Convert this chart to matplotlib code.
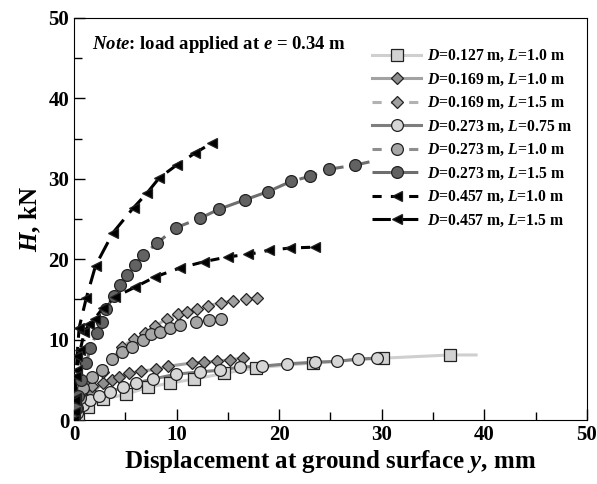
import numpy as np
import matplotlib
matplotlib.use('Agg')
import matplotlib.pyplot as plt
from matplotlib.ticker import MultipleLocator

# ---- data (y in mm, H in kN) ----
labels = [r'$D$=0.127 m, $L$=1.0 m',
          r'$D$=0.169 m, $L$=1.0 m',
          r'$D$=0.169 m, $L$=1.5 m',
          r'$D$=0.273 m, $L$=0.75 m',
          r'$D$=0.273 m, $L$=1.0 m',
          r'$D$=0.273 m, $L$=1.5 m',
          r'$D$=0.457 m, $L$=1.0 m',
          r'$D$=0.457 m, $L$=1.5 m']

x_d127_l10 = [0, 0.4, 1.4, 2.8, 5.1, 7.2, 9.4, 11.7, 14.6, 17.7, 23.3, 30.1, 36.7]
h_d127_l10 = [0, 0.7, 1.6, 2.6, 3.2, 4.1, 4.6, 5.1, 5.8, 6.5, 7.1, 7.7, 8.1]

x_d169_l10 = [0, 0.4, 1.0, 1.8, 2.8, 3.7, 4.4, 5.4, 6.5, 8.0, 9.2, 11.5, 12.7, 13.9, 15.2, 16.5]
h_d169_l10 = [0, 1.0, 2.2, 3.4, 4.6, 5.0, 5.3, 5.8, 6.1, 6.3, 6.7, 7.1, 7.2, 7.3, 7.5, 7.7]

x_d169_l15 = [0, 0.4, 1.0, 1.8, 2.8, 3.7, 4.7, 5.8, 6.9, 7.9, 9.1, 10.1, 11.0, 12.0, 13.1, 14.3, 15.5, 16.8, 17.8]
h_d169_l15 = [0, 1.4, 2.8, 4.3, 6.0, 7.6, 9.1, 10.1, 10.8, 11.7, 12.6, 13.2, 13.4, 13.8, 14.2, 14.6, 14.8, 15.0, 15.2]

x_d273_l075 = [0, 0.3, 0.9, 1.6, 2.4, 3.5, 4.8, 6.0, 7.7, 9.9, 12.3, 14.2, 16.2, 18.3, 20.8, 23.5, 25.6, 27.7, 29.5]
h_d273_l075 = [0, 0.9, 1.9, 2.5, 3.0, 3.5, 4.1, 4.6, 5.1, 5.7, 6.0, 6.2, 6.6, 6.7, 7.0, 7.2, 7.3, 7.6, 7.7]

x_d273_l10 = [0, 0.3, 0.6, 0.9, 1.8, 2.7, 3.7, 4.7, 5.7, 6.7, 7.5, 8.4, 9.4, 10.3, 11.9, 13.2, 14.3]
h_d273_l10 = [0, 1.5, 2.8, 4.0, 5.3, 6.2, 7.6, 8.5, 9.1, 10.0, 10.7, 10.9, 11.4, 11.8, 12.2, 12.4, 12.6]

x_d273_l15 = [0, 0.2, 0.4, 0.7, 1.2, 1.6, 2.2, 2.7, 3.1, 3.9, 4.5, 5.2, 5.9, 6.7, 8.1, 9.9,
              12.3, 14.1, 16.7, 18.9, 21.2, 23.0, 24.9, 27.4]
h_d273_l15 = [0, 1.5, 3.0, 5.0, 7.1, 9.0, 10.8, 12.2, 13.8, 15.4, 16.8, 18.0, 19.3, 20.5, 22.0, 23.9,
              25.1, 26.2, 27.4, 28.4, 29.7, 30.3, 31.2, 31.7]

x_d457_l10 = [0, 0.1, 0.2, 0.3, 0.6, 1.0, 1.5, 2.0, 2.8, 4.0, 5.9, 7.9, 10.3, 12.7, 15.0, 17.0, 19.0, 21.1, 23.5]
h_d457_l10 = [0, 1.0, 2.8, 6.2, 8.7, 10.9, 12.0, 12.6, 13.9, 15.3, 16.5, 17.8, 18.9, 19.7, 20.3, 20.6, 21.1, 21.4, 21.5]

x_d457_l15 = [0, 0.1, 0.2, 0.3, 0.5, 1.2, 2.1, 3.8, 5.8, 7.1, 8.3, 10.0, 11.8, 13.5]
h_d457_l15 = [0, 2.5, 5.5, 8.0, 11.5, 15.2, 19.2, 23.3, 26.4, 28.2, 30.1, 31.7, 33.2, 34.5]

# where the drawn curve runs on past the last measured point
tail_d127_l10 = (39.2, 8.1)
tail_d273_l15 = (28.8, 32.1)

plt.rcParams['font.family'] = ['Liberation Serif', 'DejaVu Serif']
plt.rcParams['mathtext.fontset'] = 'custom'
plt.rcParams['mathtext.rm'] = 'Liberation Serif:bold'
plt.rcParams['mathtext.it'] = 'Liberation Serif:bold:italic'
plt.rcParams['mathtext.bf'] = 'Liberation Serif:bold:italic'
plt.rcParams['font.weight'] = 'bold'

fig = plt.figure(figsize=(5.97, 4.84), dpi=100)
ax = fig.add_axes([0.124, 0.132, 0.859, 0.831])

series = [
    (x_d127_l10, h_d127_l10, tail_d127_l10, dict(color='#cfcfcf', ls='-', lw=2.2, marker='s', ms=8, mfc='#d2d2d2')),
    (x_d169_l10, h_d169_l10, None, dict(color='#a2a2a2', ls='-', lw=2.2, marker='D', ms=6, mfc='#8e8e8e')),
    (x_d169_l15, h_d169_l15, None, dict(color='#b2b2b2', ls=(0, (3, 3)), lw=2.2, marker='D', ms=6, mfc='#a0a0a0')),
    (x_d273_l075, h_d273_l075, None, dict(color='#7e7e7e', ls='-', lw=2.2, marker='o', ms=8.5, mfc='#d6d6d6')),
    (x_d273_l10, h_d273_l10, None, dict(color='#8e8e8e', ls=(0, (3, 3)), lw=2.2, marker='o', ms=8.5, mfc='#a6a6a6')),
    (x_d273_l15, h_d273_l15, tail_d273_l15, dict(color='#6e6e6e', ls=(0, (6, 3)), lw=2.2, marker='o', ms=8.5, mfc='#626262')),
    (x_d457_l10, h_d457_l10, None, dict(color='black', ls=(0, (3, 3)), lw=2.2, marker='<', ms=7.5, mfc='black')),
    (x_d457_l15, h_d457_l15, None, dict(color='black', ls=(0, (6, 3)), lw=2.2, marker='<', ms=7.5, mfc='black')),
]

handles = []
for (xs, hs, tail, st), lab in zip(series, labels):
    lx, ly = list(xs), list(hs)
    if tail is not None:
        lx.append(tail[0])
        ly.append(tail[1])
    ax.plot(lx, ly, color=st['color'], ls=st['ls'], lw=st['lw'], zorder=2)
    ax.plot(xs, hs, ls='none', marker=st['marker'], ms=st['ms'], mfc=st['mfc'],
            mec='#222222', mew=0.9, zorder=3)
    h, = ax.plot([], [], color=st['color'], ls=st['ls'], lw=st['lw'], marker=st['marker'],
                 ms=st['ms'], mfc=st['mfc'], mec='#222222', mew=0.9, label=lab)
    handles.append(h)

ax.set_xlim(0, 50)
ax.set_ylim(0, 50)
ax.xaxis.set_major_locator(MultipleLocator(10))
ax.xaxis.set_minor_locator(MultipleLocator(5))
ax.yaxis.set_major_locator(MultipleLocator(10))
ax.yaxis.set_minor_locator(MultipleLocator(5))
ax.tick_params(which='both', direction='in', top=False, right=False, labelsize=15)
ax.tick_params(which='major', length=8, width=1)
ax.tick_params(which='minor', length=6, width=1)
for t in ax.get_xticklabels() + ax.get_yticklabels():
    t.set_fontweight('bold')

ax.set_xlabel(r'Displacement at ground surface $y$, mm', fontsize=18, fontweight='bold', labelpad=2)
ax.set_ylabel(r'$H$, kN', fontsize=18, fontweight='bold', labelpad=4)

ax.text(0.035, 0.935, r'$Note$: load applied at $e$ = 0.34 m', transform=ax.transAxes,
        fontsize=13.5, fontweight='bold', va='center')

ax.legend(handles=handles, loc='upper right', bbox_to_anchor=(1.0, 0.96), frameon=False,
          handlelength=3.1, handletextpad=0.38, labelspacing=0.46, borderaxespad=0.5,
          prop={'weight': 'bold', 'size': 11.3})

fig.savefig('out.png', dpi=100)
